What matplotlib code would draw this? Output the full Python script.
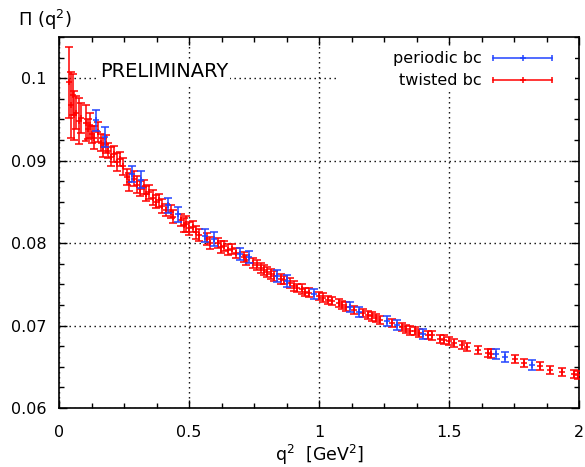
import numpy as np
import matplotlib
matplotlib.use('Agg')
import matplotlib.pyplot as plt
from matplotlib.patches import Rectangle
from matplotlib.ticker import MultipleLocator, FormatStrFormatter

# periodic bc
q2_per = [0.142, 0.177, 0.281, 0.315, 0.419, 0.458, 0.560, 0.596, 0.696, 0.730,
          0.840, 0.877, 0.980, 1.120, 1.155, 1.260, 1.300, 1.400, 1.680, 1.715, 1.820]
pi_per = [0.0949, 0.0929, 0.0884, 0.0877, 0.0846, 0.0835, 0.0809, 0.0805, 0.0787, 0.0783,
          0.0760, 0.0754, 0.0738, 0.0722, 0.0716, 0.0705, 0.0701, 0.0690, 0.0665, 0.0662, 0.0652]
err_per = [0.0013, 0.0012, 0.0010, 0.0010, 0.0009, 0.0009, 0.0008, 0.0008, 0.0007, 0.0007,
           0.0007, 0.0007, 0.0006, 0.0006, 0.0006, 0.0006, 0.0006, 0.0006, 0.0006, 0.0006, 0.0006]

# twisted bc
q2_tw = [0.038, 0.047, 0.052, 0.058, 0.065, 0.075, 0.085, 0.103, 0.112, 0.118,
         0.125, 0.135, 0.150, 0.160, 0.168, 0.182, 0.190, 0.200, 0.212, 0.222,
         0.235, 0.245, 0.262, 0.270, 0.290, 0.300, 0.310, 0.325, 0.335, 0.345,
         0.360, 0.372, 0.385, 0.398, 0.410, 0.430, 0.440, 0.470, 0.480, 0.490,
         0.500, 0.515, 0.525, 0.540, 0.570, 0.580, 0.610, 0.622, 0.635, 0.650,
         0.665, 0.680, 0.710, 0.720, 0.745, 0.760, 0.775, 0.790, 0.800, 0.815,
         0.825, 0.855, 0.865, 0.890, 0.905, 0.915, 0.935, 0.946, 0.960, 1.000,
         1.015, 1.035, 1.050, 1.075, 1.090, 1.105, 1.135, 1.170, 1.190, 1.205,
         1.220, 1.235, 1.280, 1.320, 1.335, 1.350, 1.370, 1.385, 1.420, 1.435,
         1.465, 1.480, 1.500, 1.520, 1.550, 1.570, 1.610, 1.650, 1.660, 1.755,
         1.790, 1.850, 1.890, 1.935, 1.980, 1.995]
pi_tw = [0.0995, 0.0967, 0.0980, 0.0955, 0.0958, 0.0948, 0.0952, 0.0946, 0.0938, 0.0943,
         0.0932, 0.0928, 0.0935, 0.0922, 0.0916, 0.0920, 0.0912, 0.0905, 0.0908, 0.0898,
         0.0902, 0.0893, 0.0880, 0.0874, 0.0878, 0.0871, 0.0866, 0.0868, 0.0860, 0.0862,
         0.0855, 0.0850, 0.0852, 0.0845, 0.0840, 0.0838, 0.0832, 0.0828, 0.0822, 0.0823,
         0.0818, 0.0820, 0.0813, 0.0810, 0.0805, 0.0800, 0.0800, 0.0795, 0.0797, 0.0792,
         0.0793, 0.0788, 0.0783, 0.0779, 0.0776, 0.0773, 0.0770, 0.0767, 0.0765, 0.0763,
         0.0760, 0.0757, 0.0755, 0.0752, 0.0748, 0.0746, 0.0744, 0.0741, 0.0740, 0.0736,
         0.0734, 0.0731, 0.0730, 0.0727, 0.0725, 0.0723, 0.0719, 0.0715, 0.0713, 0.0711,
         0.0709, 0.0707, 0.0703, 0.0698, 0.0696, 0.0694, 0.0693, 0.0691, 0.0689, 0.0688,
         0.0684, 0.0683, 0.0681, 0.0679, 0.0676, 0.0674, 0.0670, 0.0667, 0.0666, 0.0659,
         0.0655, 0.0651, 0.0646, 0.0644, 0.0641, 0.0640]
err_tw = [0.0043, 0.0040, 0.0025, 0.0030, 0.0020, 0.0028, 0.0018, 0.0022, 0.0012, 0.0015,
          0.0010, 0.0014, 0.0012, 0.0010, 0.0012, 0.0011, 0.0009, 0.0012, 0.0010, 0.0011,
          0.0009, 0.0010, 0.0010, 0.0011, 0.0009, 0.0010, 0.0009, 0.0008, 0.0009, 0.0008,
          0.0009, 0.0008, 0.0008, 0.0009, 0.0007, 0.0008, 0.0008, 0.0007, 0.0008, 0.0010,
          0.0008, 0.0007, 0.0008, 0.0007, 0.0007, 0.0007, 0.0006, 0.0007, 0.0006, 0.0007,
          0.0006, 0.0006, 0.0006, 0.0006, 0.0006, 0.0006, 0.0006, 0.0006, 0.0006, 0.0006,
          0.0006, 0.0006, 0.0005, 0.0006, 0.0006, 0.0005, 0.0006, 0.0005, 0.0005, 0.0005,
          0.0005, 0.0005, 0.0005, 0.0005, 0.0005, 0.0005, 0.0005, 0.0005, 0.0005, 0.0005,
          0.0005, 0.0005, 0.0005, 0.0005, 0.0005, 0.0005, 0.0005, 0.0005, 0.0005, 0.0005,
          0.0005, 0.0005, 0.0005, 0.0005, 0.0005, 0.0005, 0.0005, 0.0005, 0.0005, 0.0005,
          0.0005, 0.0005, 0.0005, 0.0005, 0.0005, 0.0005]

red = '#ff0000'
blue = '#2244ff'
fs = 11.5

plt.rcParams['font.family'] = 'DejaVu Sans'
plt.rcParams['mathtext.fontset'] = 'dejavusans'
fig = plt.figure(figsize=(5.85, 4.67), dpi=100)
ax = fig.add_axes([59/585, 1 - 408/467, 520/585, 371/467])

ax.errorbar(q2_tw, pi_tw, yerr=err_tw, fmt='+', color=red, ms=5, mew=1.1,
            elinewidth=1.1, capsize=3, capthick=1.1, zorder=3)
ax.errorbar(q2_per, pi_per, yerr=err_per, fmt='+', color=blue, ms=5, mew=1.1,
            elinewidth=1.1, capsize=3, capthick=1.1, zorder=4)

ax.set_xlim(0, 2)
ax.set_ylim(0.06, 0.105)
ax.xaxis.set_major_locator(MultipleLocator(0.5))
ax.xaxis.set_minor_locator(MultipleLocator(0.125))
ax.yaxis.set_major_locator(MultipleLocator(0.01))
ax.yaxis.set_minor_locator(MultipleLocator(0.0025))
ax.xaxis.set_major_formatter(FormatStrFormatter('%g'))
ax.yaxis.set_major_formatter(FormatStrFormatter('%g'))
ax.tick_params(which='both', direction='in', top=True, right=True, width=1)
ax.tick_params(which='major', length=6, labelsize=fs)
ax.tick_params(which='minor', length=3.5)
ax.tick_params(axis='x', which='major', pad=12)
ax.tick_params(axis='y', which='major', pad=9)
for s in ax.spines.values():
    s.set_linewidth(1.2)

ax.grid(True, which='major', color='black', linestyle=(0, (1, 2.6)), linewidth=1.0)
ax.set_axisbelow(True)

# PRELIMINARY label with opaque background
ax.text(0.079, 0.906, 'PRELIMINARY', transform=ax.transAxes, fontsize=14,
        ha='left', va='center', zorder=2,
        bbox=dict(facecolor='white', edgecolor='none', pad=1.5))

# key, drawn gnuplot style
ax.add_patch(Rectangle((0.537, 0.852), 0.455, 0.124, transform=ax.transAxes,
                       facecolor='white', edgecolor='none', zorder=2))
key_y = [0.943, 0.884]
key_txt = ['periodic bc', 'twisted bc']
key_col = [blue, red]
for ky, kt, kc in zip(key_y, key_txt, key_col):
    ax.text(0.813, ky, kt, transform=ax.transAxes, fontsize=fs, ha='right',
            va='center', zorder=5)
    ax.plot([0.835, 0.948], [ky, ky], color=kc, lw=1.1, transform=ax.transAxes,
            zorder=5, clip_on=False)
    ax.plot([0.835, 0.948], [ky, ky], '|', color=kc, ms=5, mew=1.1,
            transform=ax.transAxes, zorder=5, clip_on=False)
    ax.plot([0.8915], [ky], '+', color=kc, ms=5, mew=1.1,
            transform=ax.transAxes, zorder=5, clip_on=False)

fig.text(18/585, 1 - 20/467, 'Π (q$^2$)', fontsize=13, ha='left', va='center')
fig.text(320/585, 1 - 455/467, 'q$^2$  [GeV$^2$]', fontsize=12.5,
         ha='center', va='center')

fig.savefig('out.png', dpi=100)
